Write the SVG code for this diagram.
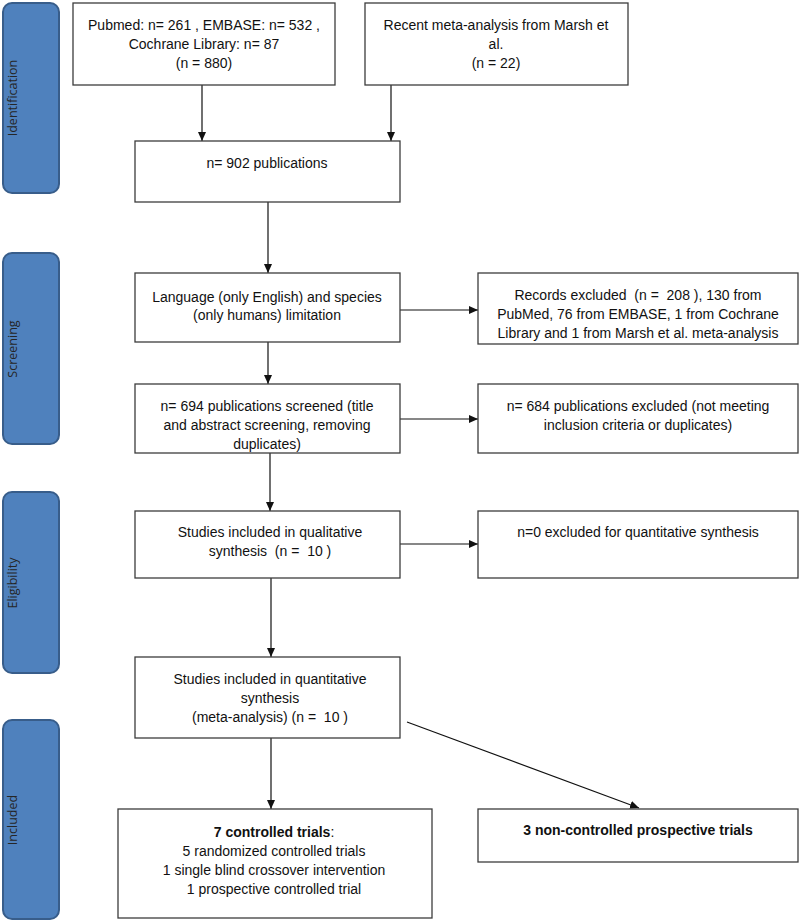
<svg xmlns="http://www.w3.org/2000/svg" width="800" height="922" viewBox="0 0 800 922" xml:space="preserve">
<defs>
<style>
.box{fill:#fff;stroke:#3c3c3c;stroke-width:1.3}
.lane{fill:#4f81bd;stroke:#385d8a;stroke-width:2}
.lt{font-family:"Open Sans","Noto Sans",sans-serif;font-size:12.5px;fill:#262626;text-anchor:middle}
.t{font-family:"Liberation Sans",Arial,sans-serif;font-size:14px;fill:#111;text-anchor:middle;white-space:pre}
.b{font-weight:bold}
.c{stroke:#111;stroke-width:1.2;fill:none;marker-end:url(#ah)}
</style>
<marker id="ah" markerWidth="10" markerHeight="10" refX="9" refY="5" orient="auto" markerUnits="userSpaceOnUse">
<path d="M0,1 L9,5 L0,9 Z" fill="#111"/>
</marker>
</defs>
<rect width="800" height="922" fill="#fff"/>

<g id="lane-identification">
<rect class="lane" x="3" y="3" width="56" height="190" rx="9"/>
<text class="lt" transform="translate(17,98) rotate(-90)">Identification</text>
</g>
<g id="lane-screening">
<rect class="lane" x="3" y="253" width="56" height="191" rx="9"/>
<text class="lt" transform="translate(17,349) rotate(-90)">Screening</text>
</g>
<g id="lane-eligibility">
<rect class="lane" x="3" y="492" width="56" height="181" rx="9"/>
<text class="lt" transform="translate(17,583) rotate(-90)">Eligibility</text>
</g>
<g id="lane-included">
<rect class="lane" x="3" y="720" width="56" height="199" rx="9"/>
<text class="lt" transform="translate(17,820) rotate(-90)">Included</text>
</g>

<g id="connectors">
<line class="c" x1="202" y1="85" x2="202" y2="141"/>
<line class="c" x1="391" y1="85" x2="391" y2="141"/>
<line class="c" x1="268" y1="202" x2="268" y2="273"/>
<line class="c" x1="400" y1="310" x2="478" y2="310"/>
<line class="c" x1="268" y1="342" x2="268" y2="384"/>
<line class="c" x1="400" y1="419" x2="478" y2="419"/>
<line class="c" x1="270" y1="453" x2="270" y2="511"/>
<line class="c" x1="400" y1="544" x2="478" y2="544"/>
<line class="c" x1="271" y1="578" x2="271" y2="657"/>
<line class="c" x1="271" y1="738" x2="271" y2="809"/>
<line class="c" x1="407" y1="722" x2="639" y2="808"/>
</g>

<g id="n-databases">
<rect class="box" x="73" y="3" width="262" height="82"/>
<text class="t" x="204" y="30">Pubmed: n= 261 , EMBASE: n= 532 ,</text>
<text class="t" x="204" y="49">Cochrane Library: n= 87</text>
<text class="t" x="204" y="68">(n = 880)</text>
</g>
<g id="n-marsh">
<rect class="box" x="365" y="3" width="263" height="82"/>
<text class="t" x="496" y="30">Recent meta-analysis from Marsh et</text>
<text class="t" x="496" y="49">al.</text>
<text class="t" x="496" y="68">(n = 22)</text>
</g>
<g id="n-902">
<rect class="box" x="135" y="141" width="265" height="61"/>
<text class="t" x="267" y="168">n= 902 publications</text>
</g>
<g id="n-language">
<rect class="box" x="135" y="273" width="265" height="69"/>
<text class="t" x="267" y="302">Language (only English) and species</text>
<text class="t" x="267" y="320">(only humans) limitation</text>
</g>
<g id="n-records-excluded">
<rect class="box" x="478" y="273" width="320" height="71"/>
<text class="t" x="638" y="300">Records excluded  (n =  208 ), 130 from</text>
<text class="t" x="638" y="319">PubMed, 76 from EMBASE, 1 from Cochrane</text>
<text class="t" x="638" y="338">Library and 1 from Marsh et al. meta-analysis</text>
</g>
<g id="n-694">
<rect class="box" x="135" y="384" width="265" height="69"/>
<text class="t" x="267" y="411">n= 694 publications screened (title</text>
<text class="t" x="267" y="430">and abstract screening, removing</text>
<text class="t" x="267" y="449">duplicates)</text>
</g>
<g id="n-684">
<rect class="box" x="478" y="384" width="320" height="69"/>
<text class="t" x="638" y="411">n= 684 publications excluded (not meeting</text>
<text class="t" x="638" y="430">inclusion criteria or duplicates)</text>
</g>
<g id="n-qualitative">
<rect class="box" x="135" y="511" width="265" height="67"/>
<text class="t" x="270" y="537">Studies included in qualitative</text>
<text class="t" x="270" y="556">synthesis  (n =  10 )</text>
</g>
<g id="n-excluded-0">
<rect class="box" x="478" y="511" width="320" height="67"/>
<text class="t" x="638" y="537">n=0 excluded for quantitative synthesis</text>
</g>
<g id="n-quantitative">
<rect class="box" x="135" y="657" width="265" height="81"/>
<text class="t" x="270" y="684">Studies included in quantitative</text>
<text class="t" x="270" y="703">synthesis</text>
<text class="t" x="270" y="722">(meta-analysis) (n =  10 )</text>
</g>
<g id="n-controlled">
<rect class="box" x="118" y="809" width="314" height="109"/>
<text class="t" x="274" y="837"><tspan class="b">7 controlled trials</tspan>:</text>
<text class="t" x="274" y="856">5 randomized controlled trials</text>
<text class="t" x="274" y="875">1 single blind crossover intervention</text>
<text class="t" x="274" y="894">1 prospective controlled trial</text>
</g>
<g id="n-noncontrolled">
<rect class="box" x="478" y="809" width="320" height="53"/>
<text class="t b" x="638" y="835">3 non-controlled prospective trials</text>
</g>
</svg>
